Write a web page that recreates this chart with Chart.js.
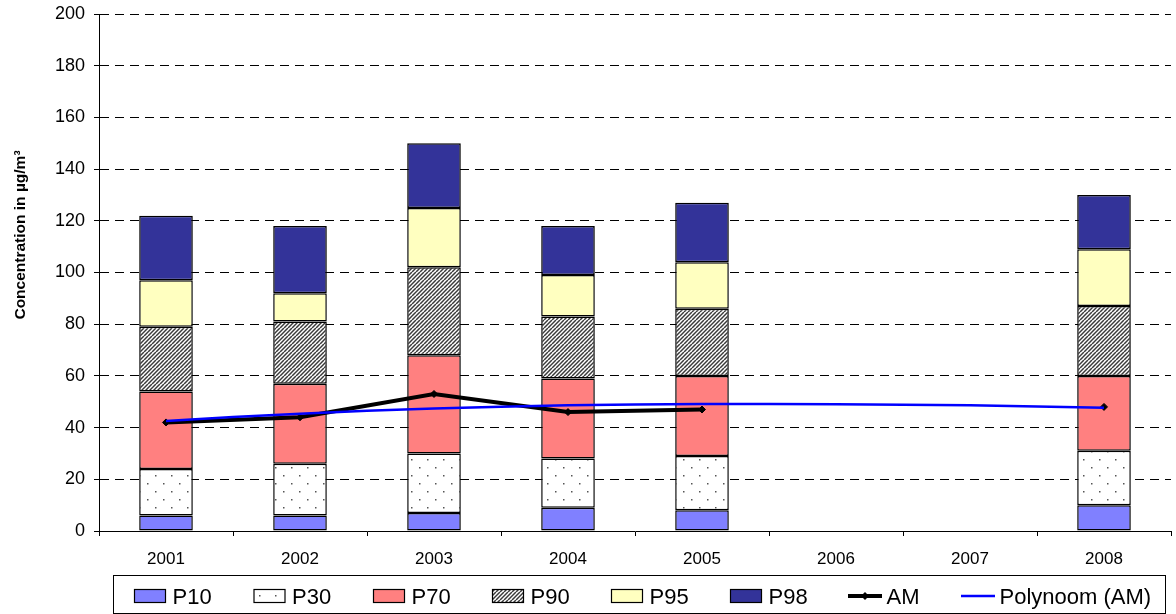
<!DOCTYPE html>
<html>
<head>
<meta charset="utf-8">
<script src="https://cdn.jsdelivr.net/npm/chart.js@4.4.0/dist/chart.umd.min.js"></script>
<style>
  html, body { margin: 0; padding: 0; background: #fff; }
  #wrap { width: 1176px; height: 614px; }
</style>
</head>
<body>
<div id="wrap"><canvas id="chart" width="1176" height="614"></canvas></div>
<script>
const years = ['2001', '2002', '2003', '2004', '2005', '2006', '2007', '2008'];
const p10 = [6, 6, 7, 9, 8, null, null, 10];
const p30 = [24, 26, 30, 28, 29, null, null, 31];
const p70 = [54, 57, 68, 59, 60, null, null, 60];
const p90 = [79, 81, 102, 83, 86, null, null, 87];
const p95 = [97, 92, 125, 99, 104, null, null, 109];
const p98 = [122, 118, 150, 118, 127, null, null, 130];
const am = [42, 44, 53, 46, 47, null, null, 48];
const polynoom = [42.6, 45.4, 47.4, 48.6, 49.1, 49.0, 48.6, 47.7];
const yTicks = [0, 20, 40, 60, 80, 100, 120, 140, 160, 180, 200];

const FONT = '"Liberation Sans", Arial, sans-serif';

// bars are stacked, so each segment is the step from the level below
const step = (upper, lower) => upper.map((v, i) => (v == null ? null : v - (lower ? lower[i] : 0)));

function dotPattern() {
  const c = document.createElement('canvas');
  c.width = 16; c.height = 16;
  const g = c.getContext('2d');
  g.fillStyle = '#fff';
  g.fillRect(0, 0, 16, 16);
  g.fillStyle = '#555';
  g.fillRect(3, 3, 1.5, 1.5);
  g.fillRect(11, 11, 1.5, 1.5);
  return g.createPattern(c, 'repeat');
}

function hatchPattern() {
  const c = document.createElement('canvas');
  c.width = 8; c.height = 8;
  const g = c.getContext('2d');
  g.fillStyle = '#fff';
  g.fillRect(0, 0, 8, 8);
  g.strokeStyle = '#3a3a3a';
  g.lineWidth = 1.5;
  for (let k = -8; k <= 16; k += 4) {
    g.beginPath();
    g.moveTo(k, 8);
    g.lineTo(k + 8, 0);
    g.stroke();
  }
  return g.createPattern(c, 'repeat');
}

const barBase = {
  type: 'bar',
  borderColor: '#000',
  borderWidth: 1.5,
  borderSkipped: false,
  barPercentage: 0.4,
  categoryPercentage: 1,
  order: 10
};

// y axis title, drawn a bit above the middle like the original
const yTitle = {
  id: 'yTitle',
  afterDraw(chart) {
    const ctx = chart.ctx;
    ctx.save();
    ctx.translate(21, 235);
    ctx.rotate(-Math.PI / 2);
    ctx.font = 'bold 15.5px ' + FONT;
    ctx.fillStyle = '#000';
    ctx.textAlign = 'center';
    ctx.textBaseline = 'middle';
    ctx.fillText('Concentration in µg/m³', 0, 0);
    ctx.restore();
  }
};

// boxed legend with evenly spread entries
const legendBox = {
  id: 'legendBox',
  afterDraw(chart) {
    const ctx = chart.ctx;
    const xs = [134, 253.5, 373, 492, 611, 730, 848, 961];
    ctx.save();
    ctx.strokeStyle = '#000';
    ctx.lineWidth = 1;
    ctx.strokeRect(113.5, 575.5, 1052, 38);
    ctx.font = '22px ' + FONT;
    ctx.textBaseline = 'alphabetic';
    ctx.textAlign = 'left';
    chart.data.datasets.forEach((ds, i) => {
      const x = xs[i];
      if (ds.type === 'bar') {
        ctx.fillStyle = ds.backgroundColor;
        ctx.fillRect(x, 589, 32, 14);
        ctx.lineWidth = 1.2;
        ctx.strokeStyle = '#000';
        ctx.strokeRect(x + 0.5, 589.5, 31, 13);
      } else {
        ctx.strokeStyle = ds.borderColor;
        ctx.lineWidth = ds.borderWidth;
        ctx.beginPath();
        ctx.moveTo(x, 596);
        ctx.lineTo(x + 34, 596);
        ctx.stroke();
        if (ds.pointRadius > 0) {
          ctx.fillStyle = ds.pointBackgroundColor;
          ctx.beginPath();
          ctx.moveTo(x + 17, 592);
          ctx.lineTo(x + 21, 596);
          ctx.lineTo(x + 17, 600);
          ctx.lineTo(x + 13, 596);
          ctx.closePath();
          ctx.fill();
        }
      }
      ctx.fillStyle = '#000';
      ctx.fillText(ds.label, x + 38.5, 604);
    });
    ctx.restore();
  }
};

new Chart(document.getElementById('chart'), {
  data: {
    labels: years,
    datasets: [
      { ...barBase, label: 'P10', data: step(p10), backgroundColor: '#8080FF' },
      { ...barBase, label: 'P30', data: step(p30, p10), backgroundColor: dotPattern() },
      { ...barBase, label: 'P70', data: step(p70, p30), backgroundColor: '#FF8080' },
      { ...barBase, label: 'P90', data: step(p90, p70), backgroundColor: hatchPattern() },
      { ...barBase, label: 'P95', data: step(p95, p90), backgroundColor: '#FFFFC0' },
      { ...barBase, label: 'P98', data: step(p98, p95), backgroundColor: '#333399' },
      {
        type: 'line', label: 'AM', data: am, stack: 'am', order: 1,
        borderColor: '#000', borderWidth: 4, spanGaps: false,
        pointStyle: 'rectRot', pointRadius: 3.5, pointBackgroundColor: '#000',
        pointBorderColor: '#000', pointBorderWidth: 1, tension: 0
      },
      {
        type: 'line', label: 'Polynoom (AM)', data: polynoom, stack: 'trend', order: 0,
        borderColor: '#0000FF', borderWidth: 2.5, pointRadius: 0, tension: 0.4
      }
    ]
  },
  options: {
    responsive: false,
    animation: false,
    layout: { padding: { top: 14, right: 0, left: 0, bottom: 0 } },
    plugins: {
      legend: { display: false },
      tooltip: { enabled: false },
      title: { display: false }
    },
    scales: {
      x: {
        stacked: true,
        afterFit: (s) => { s.height = 83; s.paddingLeft = 0; s.paddingRight = 0; },
        grid: {
          offset: true, drawOnChartArea: false, drawTicks: true,
          tickLength: 5, tickColor: '#000', tickWidth: 1
        },
        border: { display: true, color: '#000', width: 1 },
        ticks: { color: '#000', font: { family: FONT, size: 17 }, padding: 13, maxRotation: 0 }
      },
      y: {
        stacked: true,
        min: 0,
        max: 200,
        afterFit: (s) => { s.width = 99; s.paddingTop = 0; s.paddingBottom = 0; },
        afterBuildTicks: (s) => { s.ticks = yTicks.map(v => ({ value: v })); },
        grid: {
          color: '#000', lineWidth: 1, drawTicks: true, tickLength: 5,
          tickColor: '#000', tickWidth: 1
        },
        border: { display: true, color: '#000', width: 1, dash: [9, 6] },
        ticks: { color: '#000', font: { family: FONT, size: 18 }, padding: 9 }
      }
    }
  },
  plugins: [yTitle, legendBox]
});
</script>
</body>
</html>
